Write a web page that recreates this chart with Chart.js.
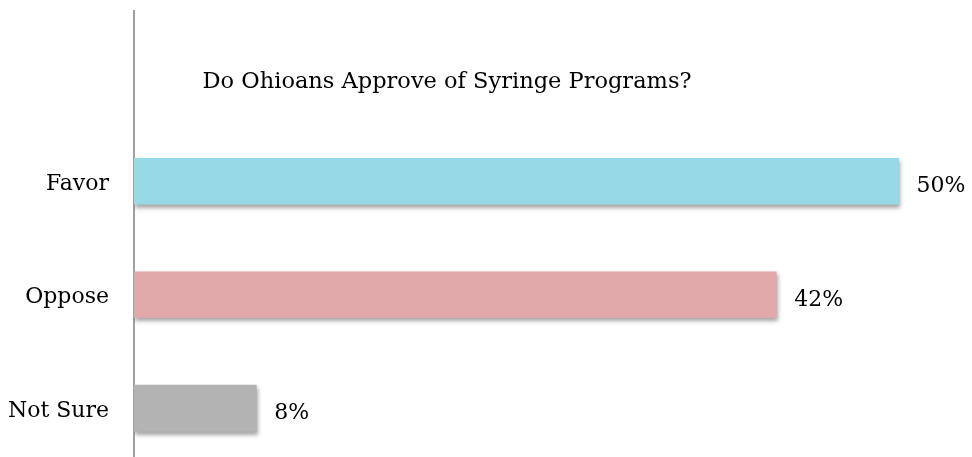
<!DOCTYPE html>
<html>
<head>
<meta charset="utf-8">
<script src="https://cdn.jsdelivr.net/npm/chart.js@4/dist/chart.umd.min.js"></script>
<style>
    html, body { margin: 0; padding: 0; background: #fff; }
    #wrap { width: 972px; height: 457px; position: relative; }
</style>
</head>
<body>
<div id="wrap"><canvas id="chart"></canvas></div>
<script>
// Survey answers, top to bottom
const categories = ['Favor', 'Oppose', 'Not Sure'];
const shares = [50, 42, 8];
const barColors = ['#97d9e5', '#e0a8a8', '#b3b3b3'];
const chartTitle = 'Do Ohioans Approve of Syringe Programs?';

const FONT = '"DejaVu Serif", serif';

// Title sits inside the plot area, above the bars
const titlePlugin = {
    id: 'innerTitle',
    afterDraw(chart) {
        const ctx = chart.ctx;
        ctx.save();
        ctx.font = '22.5px ' + FONT;
        ctx.fillStyle = '#000';
        ctx.textAlign = 'center';
        ctx.textBaseline = 'alphabetic';
        ctx.fillText(chartTitle, 447, 88);
        ctx.restore();
    }
};

// Soft drop shadow under the bars
const shadowPlugin = {
    id: 'barShadow',
    beforeDatasetsDraw(chart) {
        const ctx = chart.ctx;
        ctx.save();
        ctx.shadowColor = 'rgba(0,0,0,0.35)';
        ctx.shadowBlur = 4;
        ctx.shadowOffsetX = 1;
        ctx.shadowOffsetY = 3;
    },
    afterDatasetsDraw(chart) {
        chart.ctx.restore();
    }
};

// Percent labels at the end of each bar
const valueLabels = {
    id: 'valueLabels',
    afterDatasetsDraw(chart) {
        const ctx = chart.ctx;
        const meta = chart.getDatasetMeta(0);
        ctx.save();
        ctx.font = '22px ' + FONT;
        ctx.fillStyle = '#000';
        ctx.textAlign = 'left';
        ctx.textBaseline = 'alphabetic';
        meta.data.forEach((bar, i) => {
            ctx.fillText(shares[i] + '%', bar.x + 18, bar.y + 11);
        });
        ctx.restore();
    }
};

new Chart(document.getElementById('chart'), {
    type: 'bar',
    data: {
        datasets: [{
            data: shares.map((v, i) => ({ x: v, y: i })),
            backgroundColor: barColors,
            borderWidth: 0,
            barThickness: 46
        }]
    },
    options: {
        indexAxis: 'y',
        responsive: true,
        maintainAspectRatio: false,
        animation: false,
        layout: { padding: { top: 11, right: 0, bottom: 0, left: 0 } },
        plugins: {
            legend: { display: false },
            tooltip: { enabled: false },
            title: { display: false }
        },
        scales: {
            x: {
                display: false,
                min: 0,
                max: 54.8
            },
            y: {
                type: 'linear',
                reverse: true,
                offset: false,
                min: -1.5,
                max: 2.43,
                afterBuildTicks: scale => {
                    scale.ticks = categories.map((_, i) => ({ value: i }));
                },
                afterFit: scale => {
                    scale.width = 134;
                    scale.paddingTop = 0;
                    scale.paddingBottom = 0;
                },
                grid: { display: false, drawTicks: false },
                border: { display: true, color: '#a0a0a0', width: 2 },
                ticks: {
                    padding: 25,
                    labelOffset: 3,
                    color: '#000',
                    font: { family: FONT, size: 22 },
                    callback: v => categories[v] ?? ''
                }
            }
        }
    },
    plugins: [shadowPlugin, valueLabels, titlePlugin]
});
</script>
</body>
</html>
